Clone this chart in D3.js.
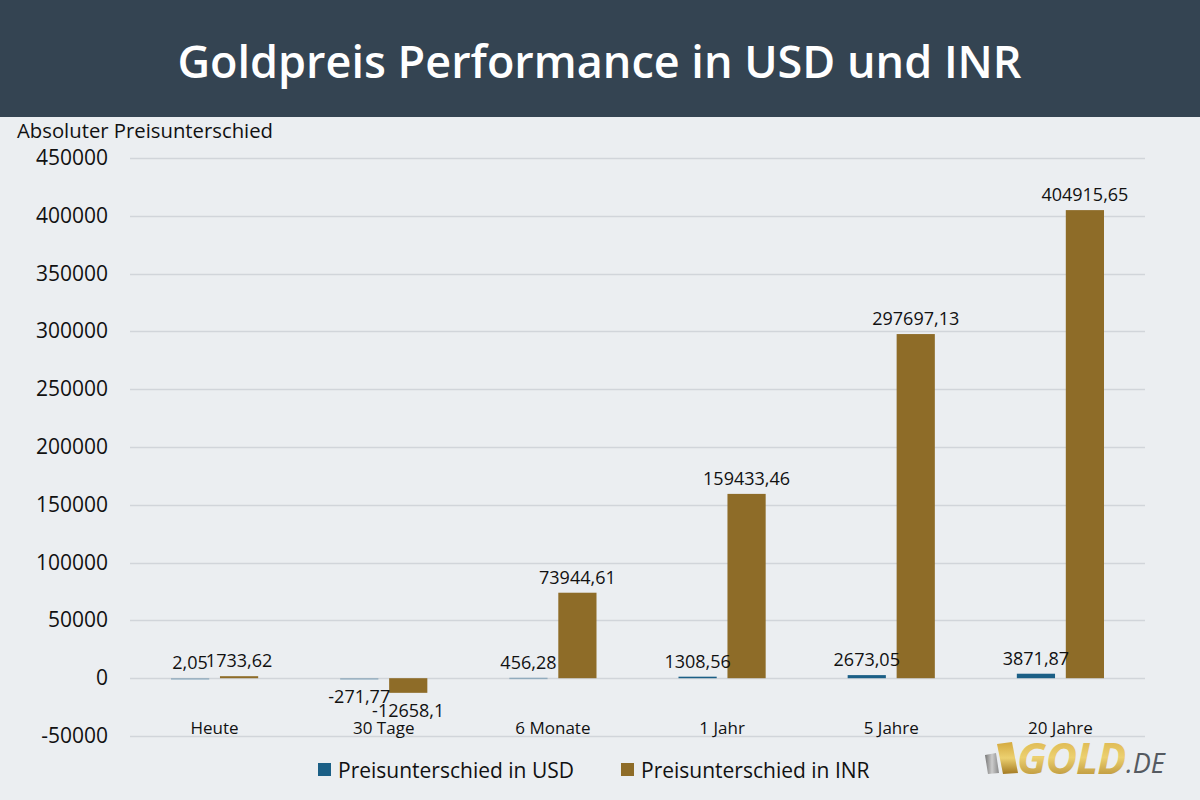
<!DOCTYPE html>
<html>
<head>
<meta charset="utf-8">
<script src="https://cdn.jsdelivr.net/npm/d3@7"></script>
<style>
  body { margin: 0; background: #ebeef1; }
  svg { display: block; font-family: "Open Sans", sans-serif; }
</style>
</head>
<body>
<svg width="1200" height="800"></svg>
<script>
const width = 1200;
const height = 800;

const categories = ["Heute", "30 Tage", "6 Monate", "1 Jahr", "5 Jahre", "20 Jahre"];
const usdValues = [2.05, -271.77, 456.28, 1308.56, 2673.05, 3871.87];
const inrValues = [1733.62, -12658.1, 73944.61, 159433.46, 297697.13, 404915.65];
const yTicks = [-50000, 0, 50000, 100000, 150000, 200000, 250000, 300000, 350000, 400000, 450000];
const seriesNames = ["Preisunterschied in USD", "Preisunterschied in INR"];
const seriesColors = ["#1b5f86", "#8e6c28"];

const svg = d3.select("svg").attr("viewBox", [0, 0, width, height]);

svg.append("rect").attr("width", width).attr("height", height).attr("fill", "#ebeef1");

// header band
svg.append("rect").attr("width", width).attr("height", 117).attr("fill", "#344452");
svg.append("text")
  .attr("x", width / 2 - 0.5).attr("y", 78)
  .attr("text-anchor", "middle")
  .attr("fill", "white")
  .style("font-size", "45px")
  .style("font-weight", "600")
  .text("Goldpreis Performance in USD und INR");

const margin = { left: 130, right: 55 };

const y = d3.scaleLinear().domain([-50000, 450000]).range([736, 158]);
const x = d3.scaleBand().domain(categories).range([margin.left, width - margin.right]);
const x1 = d3.scaleBand().domain([0, 1]).range([41, x.bandwidth() - 41]).paddingInner(0.22);

// grid
svg.append("g").selectAll("line")
  .data(yTicks)
  .join("line")
  .attr("x1", margin.left).attr("x2", width - margin.right)
  .attr("y1", d => Math.round(y(d)) + 0.5).attr("y2", d => Math.round(y(d)) + 0.5)
  .attr("stroke", "#d1d5da")
  .attr("stroke-width", 1.3);

// y axis labels
svg.append("g").selectAll("text")
  .data(yTicks)
  .join("text")
  .attr("x", 108).attr("y", d => y(d) + 7)
  .attr("text-anchor", "end")
  .attr("fill", "#111")
  .style("font-size", "21px")
  .text(d => d);

svg.append("text")
  .attr("x", 17).attr("y", 138)
  .attr("fill", "#111")
  .style("font-size", "20.3px")
  .text("Absoluter Preisunterschied");

// bars
const rows = categories.map((c, i) => ({ cat: c, vals: [usdValues[i], inrValues[i]] }));
const fmt = v => String(v).replace(".", ",");

const groups = svg.append("g").selectAll("g")
  .data(rows)
  .join("g")
  .attr("transform", d => `translate(${x(d.cat)},0)`);

groups.selectAll("rect")
  .data(d => d.vals.map((v, s) => ({ v, s })))
  .join("rect")
  .attr("x", d => x1(d.s))
  .attr("width", x1.bandwidth())
  .attr("y", d => Math.min(y(d.v), y(0)))
  .attr("height", d => Math.max(Math.abs(y(d.v) - y(0)), 1.5))
  .attr("fill", d => seriesColors[d.s])
  .attr("opacity", d => Math.abs(y(d.v) - y(0)) < 1.5 ? 0.35 : 1);

groups.selectAll("text")
  .data(d => d.vals.map((v, s) => ({ v, s })))
  .join("text")
  .attr("x", d => x1(d.s) + x1.bandwidth() / 2)
  .attr("y", d => d.v >= 0 ? y(d.v) - 9 : y(d.v) + 24)
  .attr("text-anchor", "middle")
  .attr("fill", "#111")
  .style("font-size", "18px")
  .text(d => fmt(d.v));

// category labels
svg.append("g").selectAll("text")
  .data(categories)
  .join("text")
  .attr("x", d => x(d) + x.bandwidth() / 2)
  .attr("y", 734)
  .attr("text-anchor", "middle")
  .attr("fill", "#111")
  .style("font-size", "17px")
  .text(d => d);

// legend
const legend = svg.append("g").selectAll("g")
  .data(seriesNames)
  .join("g")
  .attr("transform", (d, i) => `translate(${318 + i * 303},763)`);
legend.append("rect").attr("width", 13).attr("height", 13).attr("fill", (d, i) => seriesColors[i]);
legend.append("text")
  .attr("x", 20).attr("y", 14.5)
  .attr("fill", "#111")
  .style("font-size", "21px")
  .text(d => d);

// logo
const defs = svg.append("defs");
const gold = defs.append("linearGradient").attr("id", "gold").attr("x1", 0).attr("y1", 0).attr("x2", 0).attr("y2", 1);
gold.append("stop").attr("offset", "0%").attr("stop-color", "#d4a93e");
gold.append("stop").attr("offset", "50%").attr("stop-color", "#ecd070");
gold.append("stop").attr("offset", "100%").attr("stop-color", "#a47a22");
const grey = defs.append("linearGradient").attr("id", "grey").attr("x1", 0).attr("y1", 0).attr("x2", 1).attr("y2", 0);
grey.append("stop").attr("offset", "0%").attr("stop-color", "#777");
grey.append("stop").attr("offset", "50%").attr("stop-color", "#ccc");
grey.append("stop").attr("offset", "100%").attr("stop-color", "#888");

const logo = svg.append("g");
logo.append("path").attr("d", "M985,755 L996,753 L999,773 L988,774 Z").attr("fill", "url(#grey)");
logo.append("path").attr("d", "M997,744 L1012,742 L1018,773 L1003,774 Z").attr("fill", "url(#gold)");
logo.append("text")
  .attr("x", 1017).attr("y", 774)
  .attr("fill", "url(#gold)")
  .style("font-size", "43px")
  .style("font-weight", "bold")
  .style("font-style", "italic")
  .style("letter-spacing", "-1px")
  .text("GOLD");
logo.append("text")
  .attr("x", 1126).attr("y", 773)
  .attr("fill", "#555a61")
  .style("font-size", "27px")
  .style("font-style", "italic")
  .text(".DE");
</script>
</body>
</html>
